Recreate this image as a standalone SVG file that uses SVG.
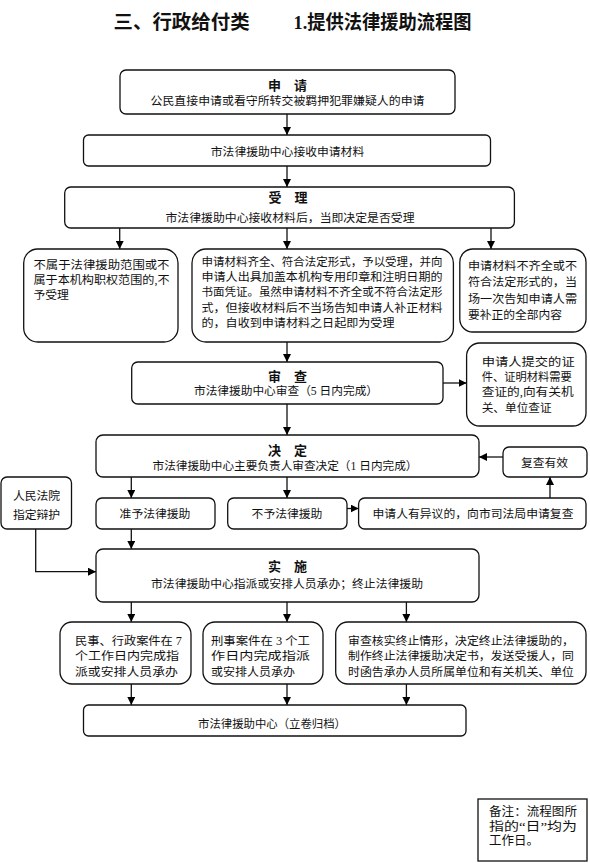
<svg xmlns="http://www.w3.org/2000/svg" width="590" height="863" viewBox="0 0 590 863">
<defs>
<marker id="ah" markerUnits="userSpaceOnUse" markerWidth="9" markerHeight="8" refX="8" refY="4" orient="auto">
<path d="M0,0 L8,4 L0,8 z" fill="#000"/>
</marker>
<style>
text{font-family:"Liberation Serif","Noto Sans CJK SC",serif;fill:#111;font-size:11.8px}
.t{font-size:19px;font-weight:bold}
.h{font-size:13px;font-weight:bold;text-anchor:middle}
.c{text-anchor:middle}
.n{font-size:12.5px}
rect{fill:#fff;stroke:#111;stroke-width:1.3}
#edges path{fill:none;stroke:#111;stroke-width:1.3;marker-end:url(#ah)}
</style>
</defs>
<rect x="0" y="0" width="590" height="863" style="stroke:none"/>
<text class="t" x="113.6" y="28.5" textLength="136" lengthAdjust="spacingAndGlyphs">三、行政给付类</text>
<text class="t" x="293.5" y="28.5" textLength="178" lengthAdjust="spacingAndGlyphs">1.提供法律援助流程图</text>

<g id="edges">
<path d="M287,114 V135"/>
<path d="M287,166 V187"/>
<path d="M119.7,228 V249"/>
<path d="M287,228 V249"/>
<path d="M491,228 V249"/>
<path d="M287,342 V362"/>
<path d="M443,383 H466.6"/>
<path d="M287,404 V435"/>
<path d="M503,457 H479"/>
<path d="M550,498 V477"/>
<path d="M131.3,477 V498"/>
<path d="M287,477 V498"/>
<path d="M347,508.5 H358.6"/>
<path d="M131.3,529 V549"/>
<path d="M35.7,529 V571.7 H96"/>
<path d="M131.3,602 V622"/>
<path d="M287,602 V622"/>
<path d="M406.4,602 V622"/>
<path d="M131.3,684 V705"/>
<path d="M287,684 V705"/>
<path d="M406.4,684 V705"/>
</g>

<g id="n1">
<rect x="120" y="70" width="335" height="44" rx="6"/>
<text class="h" x="287.5" y="90">申　请</text>
<text class="c" x="287.5" y="105.4" textLength="274" lengthAdjust="spacingAndGlyphs">公民直接申请或看守所转交被羁押犯罪嫌疑人的申请</text>
</g>
<g id="n2">
<rect x="83.5" y="135" width="407" height="31" rx="5"/>
<text class="c" x="287.5" y="156">市法律援助中心接收申请材料</text>
</g>
<g id="n3">
<rect x="64.7" y="187" width="449.7" height="41" rx="6"/>
<text class="h" x="288" y="201.7">受　理</text>
<text class="c" x="290" y="221.7" textLength="249" lengthAdjust="spacingAndGlyphs">市法律援助中心接收材料后，当即决定是否受理</text>
</g>
<g id="n4">
<rect x="23.7" y="249" width="154.3" height="93" rx="14"/>
<text x="33.5" y="269" textLength="136" lengthAdjust="spacingAndGlyphs">不属于法律援助范围或不</text>
<text x="33.5" y="284" textLength="136" lengthAdjust="spacingAndGlyphs">属于本机构职权范围的,不</text>
<text x="33.5" y="299">予受理</text>
</g>
<g id="n5">
<rect x="192" y="249" width="261.4" height="93" rx="14"/>
<text x="201.5" y="266" textLength="241" lengthAdjust="spacingAndGlyphs">申请材料齐全、符合法定形式，予以受理，并向</text>
<text x="201.5" y="281" textLength="241" lengthAdjust="spacingAndGlyphs">申请人出具加盖本机构专用印章和注明日期的</text>
<text x="201.5" y="296" textLength="241" lengthAdjust="spacingAndGlyphs">书面凭证。虽然申请材料不齐全或不符合法定形</text>
<text x="201.5" y="311.5" textLength="241" lengthAdjust="spacingAndGlyphs">式，但接收材料后不当场告知申请人补正材料</text>
<text x="201.5" y="326.5" textLength="193" lengthAdjust="spacingAndGlyphs">的，自收到申请材料之日起即为受理</text>
</g>
<g id="n6">
<rect x="459.8" y="249" width="126.2" height="83" rx="13"/>
<text x="468" y="269.5" textLength="109" lengthAdjust="spacingAndGlyphs">申请材料不齐全或不</text>
<text x="468" y="286" textLength="109" lengthAdjust="spacingAndGlyphs">符合法定形式的，当</text>
<text x="468" y="302.5" textLength="109" lengthAdjust="spacingAndGlyphs">场一次告知申请人需</text>
<text x="468" y="319" textLength="94" lengthAdjust="spacingAndGlyphs">要补正的全部内容</text>
</g>
<g id="n7">
<rect x="131.7" y="362" width="311.3" height="42" rx="6"/>
<text class="h" x="287.5" y="380.5">审　查</text>
<text class="c" x="286" y="395" textLength="184" lengthAdjust="spacingAndGlyphs">市法律援助中心审查（5 日内完成）</text>
</g>
<g id="n8">
<rect x="466.6" y="343" width="119.4" height="83" rx="13"/>
<text x="481.7" y="366" textLength="93" lengthAdjust="spacingAndGlyphs">申请人提交的证</text>
<text x="481.7" y="381" textLength="90" lengthAdjust="spacingAndGlyphs">件、证明材料需要</text>
<text x="481.7" y="396" textLength="92" lengthAdjust="spacingAndGlyphs">查证的,向有关机</text>
<text x="481.7" y="412" textLength="70" lengthAdjust="spacingAndGlyphs">关、单位查证</text>
</g>
<g id="n9">
<rect x="96" y="435" width="383" height="42" rx="7"/>
<text class="h" x="287.5" y="454.5">决　定</text>
<text class="c" x="285" y="469.7" textLength="265" lengthAdjust="spacingAndGlyphs">市法律援助中心主要负责人审查决定（1 日内完成）</text>
</g>
<g id="n10">
<rect x="503" y="447" width="84" height="30" rx="6"/>
<text class="c" x="544.5" y="466.7">复查有效</text>
</g>
<g id="n11">
<rect x="1" y="477" width="70.5" height="52" rx="6"/>
<text class="c" x="36.5" y="500">人民法院</text>
<text class="c" x="36.5" y="519.4">指定辩护</text>
</g>
<g id="n12">
<rect x="96" y="498" width="119" height="31" rx="6"/>
<text class="c" x="155" y="517.7">准予法律援助</text>
</g>
<g id="n13">
<rect x="227.7" y="498" width="119.3" height="31" rx="6"/>
<text class="c" x="287" y="517.7">不予法律援助</text>
</g>
<g id="n14">
<rect x="358.6" y="498" width="227.4" height="31" rx="6"/>
<text class="c" x="473" y="517.7" textLength="201" lengthAdjust="spacingAndGlyphs">申请人有异议的，向市司法局申请复查</text>
</g>
<g id="n15">
<rect x="96" y="549" width="383" height="53" rx="7"/>
<text class="h" x="287.5" y="570.5">实　施</text>
<text class="c" x="287" y="587.7" textLength="272" lengthAdjust="spacingAndGlyphs">市法律援助中心指派或安排人员承办；终止法律援助</text>
</g>
<g id="n16">
<rect x="60" y="622" width="131" height="62" rx="12"/>
<text x="75" y="645" textLength="107" lengthAdjust="spacingAndGlyphs">民事、行政案件在 7</text>
<text x="75" y="660" textLength="104" lengthAdjust="spacingAndGlyphs">个工作日内完成指</text>
<text x="75" y="675.7" textLength="103" lengthAdjust="spacingAndGlyphs">派或安排人员承办</text>
</g>
<g id="n17">
<rect x="203" y="622" width="120" height="62" rx="12"/>
<text x="211" y="645" textLength="99" lengthAdjust="spacingAndGlyphs">刑事案件在 3 个工</text>
<text x="211" y="660" textLength="99" lengthAdjust="spacingAndGlyphs">作日内完成指派</text>
<text x="211" y="675.7" textLength="84" lengthAdjust="spacingAndGlyphs">或安排人员承办</text>
</g>
<g id="n18">
<rect x="335.7" y="622" width="250.3" height="62" rx="12"/>
<text x="348" y="645" textLength="226" lengthAdjust="spacingAndGlyphs">审查核实终止情形，决定终止法律援助的，</text>
<text x="348" y="660" textLength="226" lengthAdjust="spacingAndGlyphs">制作终止法律援助决定书，发送受援人，同</text>
<text x="348" y="675.7" textLength="226" lengthAdjust="spacingAndGlyphs">时函告承办人员所属单位和有关机关、单位</text>
</g>
<g id="n19">
<rect x="83.5" y="705" width="382.5" height="31" rx="5"/>
<text class="c" x="272" y="727.7" textLength="148" lengthAdjust="spacingAndGlyphs">市法律援助中心（立卷归档）</text>
</g>
<g id="n20">
<rect x="478" y="799" width="109" height="62" rx="0"/>
<text class="n" x="489" y="815.7" textLength="88" lengthAdjust="spacingAndGlyphs">备注：流程图所</text>
<text class="n" x="489" y="830.5" textLength="88" lengthAdjust="spacingAndGlyphs">指的“日”均为</text>
<text class="n" x="489" y="844.8">工作日。</text>
</g>
</svg>
